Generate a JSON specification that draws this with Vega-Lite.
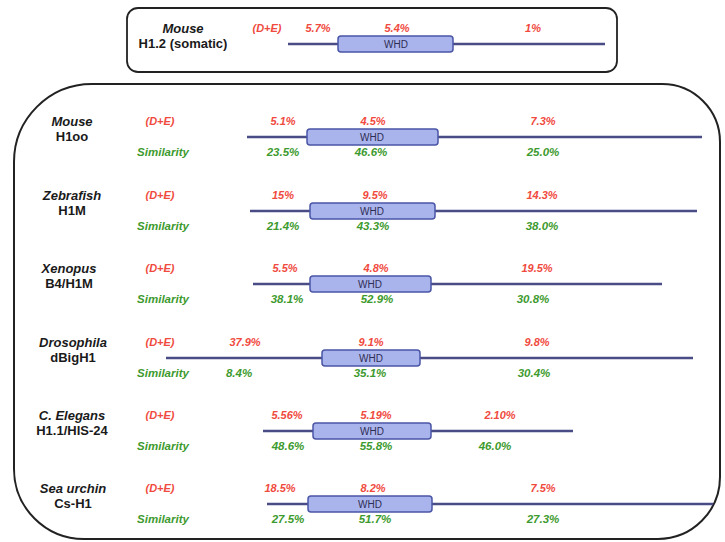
{
  "$schema": "https://vega.github.io/schema/vega-lite/v6.json",
  "width": 725,
  "height": 542,
  "padding": 0,
  "autosize": {"type": "fit", "contains": "padding"},
  "background": "white",
  "config": {"view": {"stroke": null}, "text": {"font": "Liberation Sans"}},
  "datasets": {
    "frames": [
      {"frame": "somatic", "x1": 127, "x2": 617, "y1": 8, "y2": 72},
      {"frame": "germline", "x1": 14, "x2": 720, "y1": 84, "y2": 539}
    ],
    "tracks": [
      {"id": "Mouse H1.2", "track": 44, "start": 288, "whd_start": 338, "whd_end": 453, "end": 605},
      {"id": "Mouse H1oo", "track": 137, "start": 247, "whd_start": 307, "whd_end": 438, "end": 702},
      {"id": "Zebrafish H1M", "track": 211, "start": 250, "whd_start": 310, "whd_end": 435, "end": 697},
      {"id": "Xenopus B4/H1M", "track": 284, "start": 253, "whd_start": 310, "whd_end": 431, "end": 662},
      {"id": "Drosophila dBigH1", "track": 358, "start": 166, "whd_start": 322, "whd_end": 420, "end": 693},
      {"id": "C. Elegans H1.1/HIS-24", "track": 431, "start": 263, "whd_start": 313, "whd_end": 431, "end": 573},
      {"id": "Sea urchin Cs-H1", "track": 504, "start": 267, "whd_start": 308, "whd_end": 432, "end": 713}
    ],
    "labels": [
      {"track": 44, "kind": "species", "pos": 183, "text": "Mouse"},
      {"track": 44, "kind": "variant", "pos": 183, "text": "H1.2 (somatic)"},
      {"track": 44, "kind": "de", "pos": 267, "text": "(D+E)"},
      {"track": 44, "kind": "pde", "pos": 318, "text": "5.7%"},
      {"track": 44, "kind": "pde", "pos": 397, "text": "5.4%"},
      {"track": 44, "kind": "pde", "pos": 533, "text": "1%"},
      {"track": 44, "kind": "whd", "pos": 396, "text": "WHD"},

      {"track": 137, "kind": "species", "pos": 72, "text": "Mouse"},
      {"track": 137, "kind": "variant", "pos": 72, "text": "H1oo"},
      {"track": 137, "kind": "de", "pos": 160, "text": "(D+E)"},
      {"track": 137, "kind": "sim", "pos": 163, "text": "Similarity"},
      {"track": 137, "kind": "pde", "pos": 283, "text": "5.1%"},
      {"track": 137, "kind": "pde", "pos": 373, "text": "4.5%"},
      {"track": 137, "kind": "pde", "pos": 543, "text": "7.3%"},
      {"track": 137, "kind": "psim", "pos": 283, "text": "23.5%"},
      {"track": 137, "kind": "psim", "pos": 371, "text": "46.6%"},
      {"track": 137, "kind": "psim", "pos": 543, "text": "25.0%"},
      {"track": 137, "kind": "whd", "pos": 372, "text": "WHD"},

      {"track": 211, "kind": "species", "pos": 72, "text": "Zebrafish"},
      {"track": 211, "kind": "variant", "pos": 72, "text": "H1M"},
      {"track": 211, "kind": "de", "pos": 160, "text": "(D+E)"},
      {"track": 211, "kind": "sim", "pos": 163, "text": "Similarity"},
      {"track": 211, "kind": "pde", "pos": 283, "text": "15%"},
      {"track": 211, "kind": "pde", "pos": 375, "text": "9.5%"},
      {"track": 211, "kind": "pde", "pos": 542, "text": "14.3%"},
      {"track": 211, "kind": "psim", "pos": 283, "text": "21.4%"},
      {"track": 211, "kind": "psim", "pos": 373, "text": "43.3%"},
      {"track": 211, "kind": "psim", "pos": 542, "text": "38.0%"},
      {"track": 211, "kind": "whd", "pos": 372, "text": "WHD"},

      {"track": 284, "kind": "species", "pos": 69, "text": "Xenopus"},
      {"track": 284, "kind": "variant", "pos": 69, "text": "B4/H1M"},
      {"track": 284, "kind": "de", "pos": 160, "text": "(D+E)"},
      {"track": 284, "kind": "sim", "pos": 163, "text": "Similarity"},
      {"track": 284, "kind": "pde", "pos": 285, "text": "5.5%"},
      {"track": 284, "kind": "pde", "pos": 376, "text": "4.8%"},
      {"track": 284, "kind": "pde", "pos": 537, "text": "19.5%"},
      {"track": 284, "kind": "psim", "pos": 287, "text": "38.1%"},
      {"track": 284, "kind": "psim", "pos": 377, "text": "52.9%"},
      {"track": 284, "kind": "psim", "pos": 533, "text": "30.8%"},
      {"track": 284, "kind": "whd", "pos": 370, "text": "WHD"},

      {"track": 358, "kind": "species", "pos": 73, "text": "Drosophila"},
      {"track": 358, "kind": "variant", "pos": 73, "text": "dBigH1"},
      {"track": 358, "kind": "de", "pos": 160, "text": "(D+E)"},
      {"track": 358, "kind": "sim", "pos": 163, "text": "Similarity"},
      {"track": 358, "kind": "pde", "pos": 245, "text": "37.9%"},
      {"track": 358, "kind": "pde", "pos": 371, "text": "9.1%"},
      {"track": 358, "kind": "pde", "pos": 537, "text": "9.8%"},
      {"track": 358, "kind": "psim", "pos": 239, "text": "8.4%"},
      {"track": 358, "kind": "psim", "pos": 370, "text": "35.1%"},
      {"track": 358, "kind": "psim", "pos": 534, "text": "30.4%"},
      {"track": 358, "kind": "whd", "pos": 371, "text": "WHD"},

      {"track": 431, "kind": "species", "pos": 72, "text": "C. Elegans"},
      {"track": 431, "kind": "variant", "pos": 72, "text": "H1.1/HIS-24"},
      {"track": 431, "kind": "de", "pos": 160, "text": "(D+E)"},
      {"track": 431, "kind": "sim", "pos": 163, "text": "Similarity"},
      {"track": 431, "kind": "pde", "pos": 287, "text": "5.56%"},
      {"track": 431, "kind": "pde", "pos": 376, "text": "5.19%"},
      {"track": 431, "kind": "pde", "pos": 500, "text": "2.10%"},
      {"track": 431, "kind": "psim", "pos": 288, "text": "48.6%"},
      {"track": 431, "kind": "psim", "pos": 376, "text": "55.8%"},
      {"track": 431, "kind": "psim", "pos": 495, "text": "46.0%"},
      {"track": 431, "kind": "whd", "pos": 372, "text": "WHD"},

      {"track": 504, "kind": "species", "pos": 73, "text": "Sea urchin"},
      {"track": 504, "kind": "variant", "pos": 73, "text": "Cs-H1"},
      {"track": 504, "kind": "de", "pos": 160, "text": "(D+E)"},
      {"track": 504, "kind": "sim", "pos": 163, "text": "Similarity"},
      {"track": 504, "kind": "pde", "pos": 280, "text": "18.5%"},
      {"track": 504, "kind": "pde", "pos": 373, "text": "8.2%"},
      {"track": 504, "kind": "pde", "pos": 543, "text": "7.5%"},
      {"track": 504, "kind": "psim", "pos": 288, "text": "27.5%"},
      {"track": 504, "kind": "psim", "pos": 375, "text": "51.7%"},
      {"track": 504, "kind": "psim", "pos": 543, "text": "27.3%"},
      {"track": 504, "kind": "whd", "pos": 370, "text": "WHD"}
    ]
  },
  "layer": [
    {
      "data": {"name": "frames"},
      "transform": [{"filter": "datum.frame === 'somatic'"}],
      "mark": {"type": "rect", "fill": "transparent", "stroke": "#222222", "strokeWidth": 1.8, "cornerRadius": 11},
      "encoding": {
        "x": {"field": "x1", "type": "quantitative", "scale": {"domain": [0, 725], "nice": false, "zero": false}, "axis": null},
        "x2": {"field": "x2"},
        "y": {"field": "y1", "type": "quantitative", "scale": {"domain": [0, 542], "nice": false, "zero": false, "reverse": true}, "axis": null},
        "y2": {"field": "y2"}
      }
    },
    {
      "data": {"name": "frames"},
      "transform": [{"filter": "datum.frame === 'germline'"}],
      "mark": {"type": "rect", "fill": "transparent", "stroke": "#222222", "strokeWidth": 2, "cornerRadiusTopLeft": 78, "cornerRadiusBottomLeft": 70, "cornerRadiusTopRight": 58, "cornerRadiusBottomRight": 62},
      "encoding": {
        "x": {"field": "x1", "type": "quantitative", "scale": {"domain": [0, 725], "nice": false, "zero": false}, "axis": null},
        "x2": {"field": "x2"},
        "y": {"field": "y1", "type": "quantitative", "scale": {"domain": [0, 542], "nice": false, "zero": false, "reverse": true}, "axis": null},
        "y2": {"field": "y2"}
      }
    },
    {
      "data": {"name": "tracks"},
      "mark": {"type": "rule", "stroke": "#4a4c86", "strokeWidth": 2.5},
      "encoding": {
        "x": {"field": "start", "type": "quantitative", "scale": {"domain": [0, 725], "nice": false, "zero": false}, "axis": null},
        "x2": {"field": "end"},
        "y": {"field": "track", "type": "quantitative", "scale": {"domain": [0, 542], "nice": false, "zero": false, "reverse": true}, "axis": null}
      }
    },
    {
      "data": {"name": "tracks"},
      "mark": {"type": "rect", "fill": "#aab4ec", "stroke": "#4a56a6", "strokeWidth": 1.5, "cornerRadius": 3, "yOffset": -8, "y2Offset": 8},
      "encoding": {
        "x": {"field": "whd_start", "type": "quantitative", "scale": {"domain": [0, 725], "nice": false, "zero": false}, "axis": null},
        "x2": {"field": "whd_end"},
        "y": {"field": "track", "type": "quantitative", "scale": {"domain": [0, 542], "nice": false, "zero": false, "reverse": true}, "axis": null},
        "y2": {"field": "track"}
      }
    },
    {
      "data": {"name": "labels"},
      "transform": [{"filter": "datum.kind === 'species'"}],
      "mark": {"type": "text", "fontSize": 13, "fontWeight": "bold", "fontStyle": "italic", "color": "#1a1a1a", "baseline": "middle", "align": "center", "yOffset": -15},
      "encoding": {
        "x": {"field": "pos", "type": "quantitative", "scale": {"domain": [0, 725], "nice": false, "zero": false}, "axis": null},
        "y": {"field": "track", "type": "quantitative", "scale": {"domain": [0, 542], "nice": false, "zero": false, "reverse": true}, "axis": null},
        "text": {"field": "text"}
      }
    },
    {
      "data": {"name": "labels"},
      "transform": [{"filter": "datum.kind === 'variant'"}],
      "mark": {"type": "text", "fontSize": 13, "fontWeight": "bold", "color": "#1a1a1a", "baseline": "middle", "align": "center", "yOffset": 0},
      "encoding": {
        "x": {"field": "pos", "type": "quantitative", "scale": {"domain": [0, 725], "nice": false, "zero": false}, "axis": null},
        "y": {"field": "track", "type": "quantitative", "scale": {"domain": [0, 542], "nice": false, "zero": false, "reverse": true}, "axis": null},
        "text": {"field": "text"}
      }
    },
    {
      "data": {"name": "labels"},
      "transform": [{"filter": "datum.kind === 'de' || datum.kind === 'pde'"}],
      "mark": {"type": "text", "fontSize": 11, "fontWeight": "bold", "fontStyle": "italic", "color": "#f04a3e", "baseline": "middle", "align": "center", "yOffset": -15},
      "encoding": {
        "x": {"field": "pos", "type": "quantitative", "scale": {"domain": [0, 725], "nice": false, "zero": false}, "axis": null},
        "y": {"field": "track", "type": "quantitative", "scale": {"domain": [0, 542], "nice": false, "zero": false, "reverse": true}, "axis": null},
        "text": {"field": "text"}
      }
    },
    {
      "data": {"name": "labels"},
      "transform": [{"filter": "datum.kind === 'sim' || datum.kind === 'psim'"}],
      "mark": {"type": "text", "fontSize": 11.5, "fontWeight": "bold", "fontStyle": "italic", "color": "#3d9a2e", "baseline": "middle", "align": "center", "yOffset": 16},
      "encoding": {
        "x": {"field": "pos", "type": "quantitative", "scale": {"domain": [0, 725], "nice": false, "zero": false}, "axis": null},
        "y": {"field": "track", "type": "quantitative", "scale": {"domain": [0, 542], "nice": false, "zero": false, "reverse": true}, "axis": null},
        "text": {"field": "text"}
      }
    },
    {
      "data": {"name": "labels"},
      "transform": [{"filter": "datum.kind === 'whd'"}],
      "mark": {"type": "text", "fontSize": 10, "color": "#2e2e55", "baseline": "middle", "align": "center", "yOffset": 1},
      "encoding": {
        "x": {"field": "pos", "type": "quantitative", "scale": {"domain": [0, 725], "nice": false, "zero": false}, "axis": null},
        "y": {"field": "track", "type": "quantitative", "scale": {"domain": [0, 542], "nice": false, "zero": false, "reverse": true}, "axis": null},
        "text": {"field": "text"}
      }
    }
  ]
}
